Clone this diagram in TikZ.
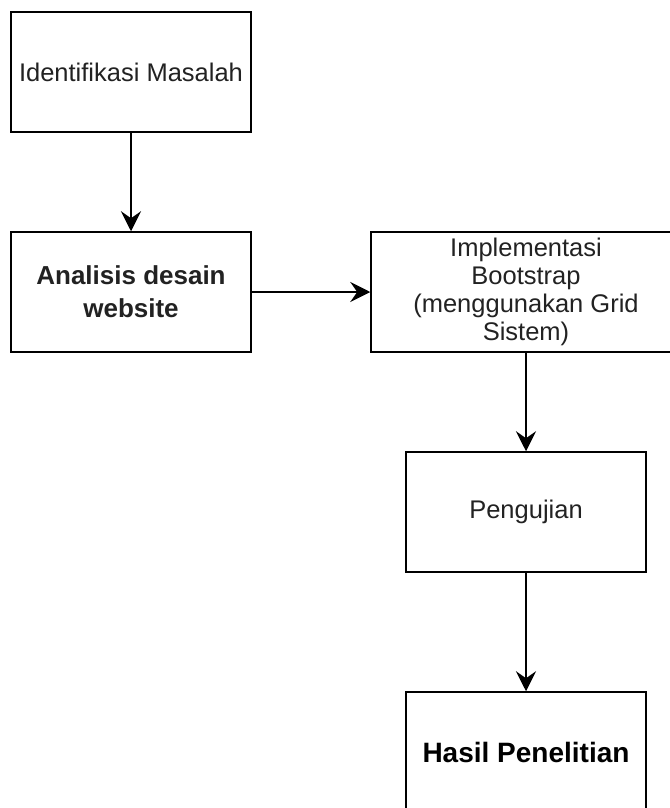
\documentclass[tikz,border=0pt]{standalone}
\usepackage{fontspec}
\setmainfont{Liberation Sans}
\usetikzlibrary{arrows.meta}
\definecolor{txtgray}{RGB}{34,34,34}
\begin{document}
\begin{tikzpicture}[x=1bp,y=-1bp,
  box/.style={draw=black, line width=1.5bp, fill=white, minimum width=240bp,
    minimum height=120bp, inner sep=0pt, align=center, text=txtgray,
    font=\fontsize{25.5bp}{28bp}\selectfont},
  boldbox/.style={box, font=\bfseries\fontsize{26bp}{33bp}\selectfont},
  conn/.style={draw=black, line width=1.5bp,
    -{Stealth[length=20bp,width=20bp,inset=7bp]}}]
\useasboundingbox (0,0) rectangle (670,808);
\clip (0,0) rectangle (670,808);
\node[box] (idm) at (131,72) {Identifikasi Masalah};
\node[boldbox] (ana) at (131,292) {Analisis desain\\website};
\node[box, minimum width=310bp] (imp) at (526,292) {Implementasi\\Bootstrap\\(menggunakan Grid\\Sistem)};
\node[box] (uji) at (526,512) {Pengujian};
\node[boldbox, text=black, font=\bfseries\fontsize{28bp}{33bp}\selectfont] (has) at (526,752) {Hasil Penelitian};
\draw[conn] (idm) -- (ana);
\draw[conn] (ana) -- (imp);
\draw[conn] (imp) -- (uji);
\draw[conn] (uji) -- (has);
\end{tikzpicture}
\end{document}
